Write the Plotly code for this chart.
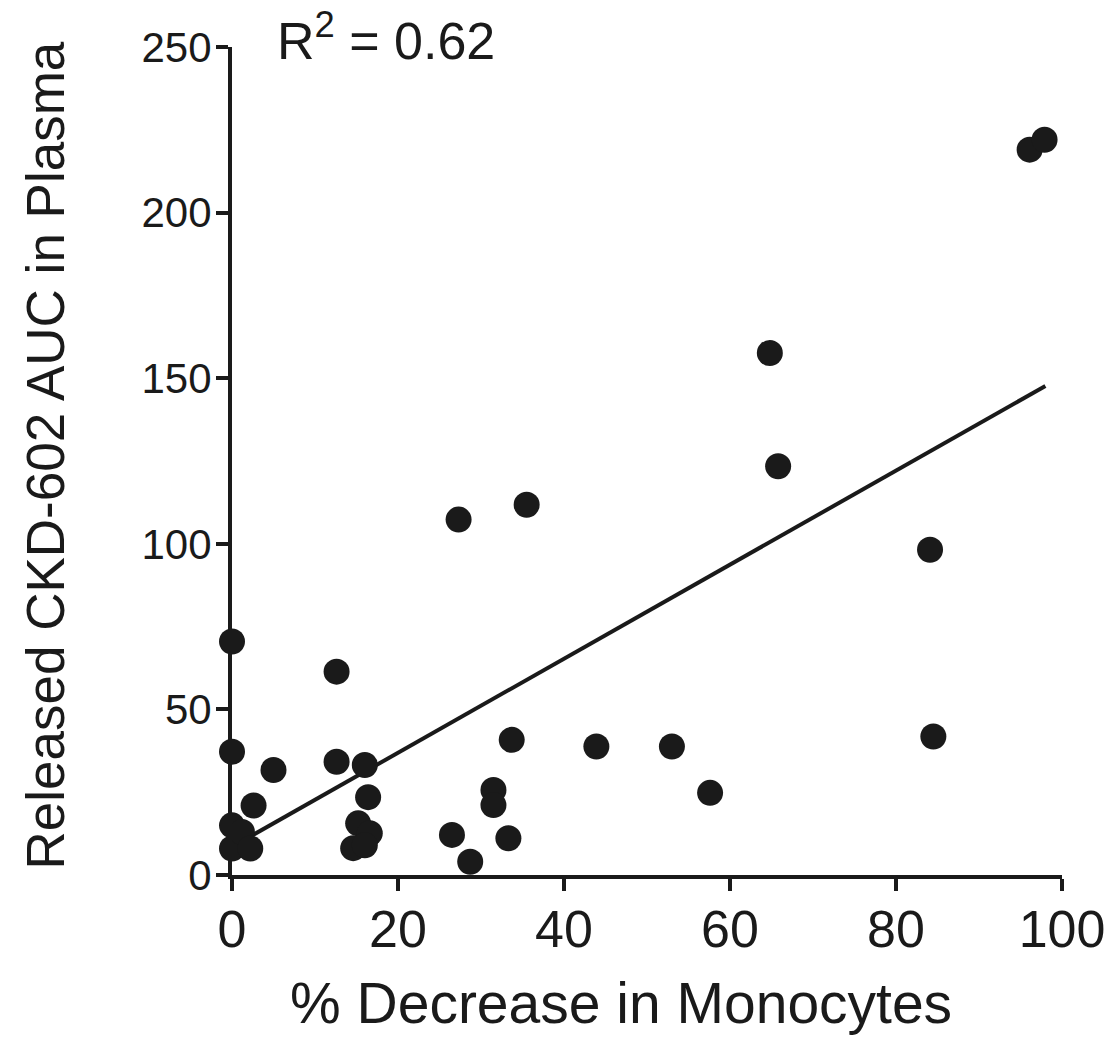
import plotly.graph_objects as go

# % decrease in monocytes vs released CKD-602 AUC in plasma
pct_decrease = [0, 0, 0, 0, 1.2, 2.2, 2.6, 5.0, 12.6, 12.6, 16.0, 16.4, 15.2, 16.6,
                14.6, 16.0, 26.5, 28.7, 27.3, 31.5, 31.5, 33.3, 33.7, 35.5, 43.9,
                53.0, 57.6, 64.8, 65.8, 84.1, 84.5, 96.1, 97.9]
auc_plasma = [70.5, 37.2, 15, 8, 13, 8, 21, 31.7, 61.4, 34.2, 33.2, 23.5, 15.6, 12.6,
              8.1, 9, 12.1, 4, 107.3, 25.7, 21.1, 11.1, 40.8, 111.8, 38.8,
              38.8, 24.8, 157.6, 123.4, 98.2, 41.8, 219, 222]

# regression line
fit_intercept = 8.5
fit_slope = 1.42
fit_x = [0, 98]
fit_y = [fit_intercept + fit_slope * v for v in fit_x]

x_ticks = [0, 20, 40, 60, 80, 100]
y_ticks = [0, 50, 100, 150, 200, 250]

FONT = "Liberation Sans, Arial, Helvetica, sans-serif"
INK = "#1a1a1a"

fig = go.Figure()
fig.add_trace(go.Scatter(
    x=fit_x, y=fit_y, mode="lines",
    line=dict(color=INK, width=4),
    cliponaxis=False, hoverinfo="skip"
))
fig.add_trace(go.Scatter(
    x=pct_decrease, y=auc_plasma, mode="markers",
    marker=dict(size=26, color=INK, line=dict(width=0)),
    cliponaxis=False
))

fig.update_layout(
    width=1111, height=1037,
    margin=dict(l=232, r=49, t=47, b=162),
    paper_bgcolor="white", plot_bgcolor="white",
    showlegend=False,
    font=dict(family=FONT, color=INK),
    annotations=[
        dict(text="R<sup>2</sup> = 0.62", xref="paper", yref="paper",
             x=0.052, y=1.012, xanchor="left", yanchor="middle",
             showarrow=False, font=dict(size=52, family=FONT, color=INK)),
        dict(text="% Decrease in Monocytes", xref="paper", yref="paper",
             x=0.469, y=-0.155, xanchor="center", yanchor="middle",
             showarrow=False, font=dict(size=57, family=FONT, color=INK)),
        dict(text="Released CKD-602 AUC in Plasma", xref="paper", yref="paper",
             x=-0.225, y=0.507, xanchor="center", yanchor="middle", textangle=-90,
             showarrow=False, font=dict(size=53, family=FONT, color=INK)),
    ]
)
fig.update_xaxes(
    range=[0, 100], tickvals=x_ticks, showgrid=False, zeroline=False,
    showline=True, linecolor=INK, linewidth=4, automargin=False,
    ticks="outside", ticklen=12, tickwidth=4, tickcolor=INK,
    tickfont=dict(size=52), ticklabeloverflow="allow", ticklabelstandoff=-6
)
fig.update_yaxes(
    range=[0, 250], tickvals=y_ticks, showgrid=False, zeroline=False,
    showline=True, linecolor=INK, linewidth=4, automargin=False,
    ticks="outside", ticklen=12, tickwidth=4, tickcolor=INK,
    tickfont=dict(size=42), ticklabelstandoff=-4
)

# drop the default 8px body margin so the figure fills the window
fig.write_html("out.html", config={"displayModeBar": False},
               post_script="document.body.style.margin='0px';")
